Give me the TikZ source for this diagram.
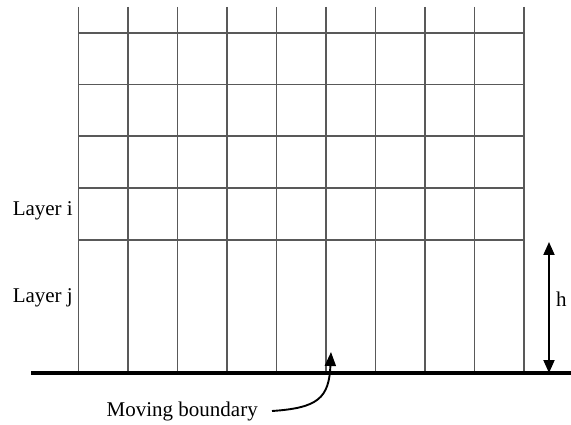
\documentclass[tikz,border=0pt]{standalone}
\usepackage{fontspec}
\setmainfont{Liberation Serif}
\usetikzlibrary{arrows.meta}
\begin{document}
\begin{tikzpicture}[x=1pt,y=-1pt,
  gridline/.style={draw=black!65,line width=1.9pt},
  boundary/.style={draw=black,line width=3.2pt},
  lbl/.style={font=\fontsize{21}{25}\selectfont,inner sep=0pt},
  dimarrow/.style={draw=black,line width=1.9pt,{Triangle[width=11pt,length=13pt]}-{Triangle[width=11pt,length=13pt]}},
  ptr/.style={draw=black,line width=1.9pt,-{Triangle[width=11pt,length=14pt]}}]
\useasboundingbox (0,0) rectangle (571,425);
% grid
\foreach \x in {78.5,128,177.5,227,276.5,326,375.5,425,474.5,524}
  \draw[gridline] (\x,7) -- (\x,373);
\foreach \y in {33,84.5,136,188,240}
  \draw[gridline] (78.5,\y) -- (524,\y);
% boundary
\coordinate (bl) at (31,373);
\coordinate (br) at (571,373);
\draw[boundary] (bl) -- (br);
% labels
\node[lbl,anchor=east] (li) at (73,211) {Layer i};
\node[lbl,anchor=east] (lj) at (73,298) {Layer j};
% h arrow
\coordinate (htop) at (549,242);
\coordinate (hbot) at (549,373);
\draw[dimarrow] (htop) -- (hbot);
\node[lbl,anchor=west] (h) at (556,299) {h};
% moving boundary
\node[lbl,anchor=east] (mb) at (258,411) {Moving boundary};
\coordinate (mbs) at (272,411);
\coordinate (mbt) at (331,352);
\draw[ptr] (mbs) .. controls (318,408) and (329,398) .. (mbt);
\end{tikzpicture}
\end{document}
